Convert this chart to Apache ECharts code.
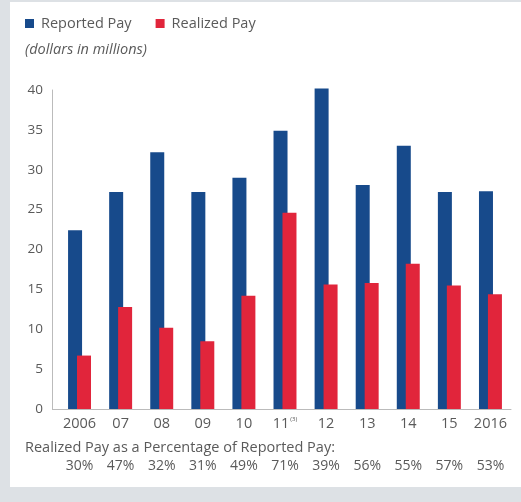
<!DOCTYPE html>
<html>
<head>
<meta charset="utf-8">
<script src="https://cdn.jsdelivr.net/npm/echarts@6/dist/echarts.min.js"></script>
<style>
  html, body { margin: 0; padding: 0; background: #dde1e5; }
  #chart { width: 521px; height: 502px; }
</style>
</head>
<body>
<div id="chart"></div>
<script>
// dollars in millions
var years = ['2006', '07', '08', '09', '10', '11', '12', '13', '14', '15', '2016'];
var reported = [22.4, 27.2, 32.2, 27.2, 29.0, 34.9, 40.2, 28.1, 33.0, 27.2, 27.3];
var realized = [6.7, 12.8, 10.2, 8.5, 14.2, 24.6, 15.6, 15.8, 18.2, 15.5, 14.4];
var pctLabels = ['30%', '47%', '32%', '31%', '49%', '71%', '39%', '56%', '55%', '57%', '53%'];
var yTicks = [0, 5, 10, 15, 20, 25, 30, 35, 40];

var txt = '#5a5a5a';
var font = 'Open Sans';
var fs = 14.5;

var chart = echarts.init(document.getElementById('chart'));
var option = {
    backgroundColor: '#dde1e5',
    animation: false,
    graphic: [
        { type: 'rect', z: -10, shape: { x: 10, y: 2, width: 511, height: 485 }, style: { fill: '#fff' } },
        // axis line continues under the offset y axis
        { type: 'line', shape: { x1: 52, y1: 409.5, x2: 60, y2: 409.5 }, style: { stroke: '#bbb', lineWidth: 1 } }
    ],
    title: [
        {
            text: '(dollars in millions)',
            left: 20, top: 37,
            textStyle: { fontFamily: font, fontSize: fs, fontStyle: 'italic', fontWeight: 'normal', color: txt }
        },
        {
            text: 'Realized Pay as a Percentage of Reported Pay:',
            left: 20, top: 435,
            textStyle: { fontFamily: font, fontSize: fs, fontWeight: 'normal', color: txt }
        }
    ],
    legend: {
        left: 20, top: 11,
        itemWidth: 9, itemHeight: 9, itemGap: 24,
        icon: 'rect',
        textStyle: { fontFamily: font, fontSize: fs, color: txt, padding: [0, 0, 0, 2] },
        data: ['Reported Pay', 'Realized Pay']
    },
    grid: { left: 59, right: 10, top: 90, bottom: 93 },
    xAxis: [
        {
            type: 'category',
            data: years,
            axisLine: { lineStyle: { color: '#bbb' } },
            axisTick: { show: false },
            axisLabel: {
                interval: 0,
                margin: 7,
                fontFamily: font, fontSize: fs, color: txt,
                formatter: function (v) { return v === '11' ? '11{s|(3)}' : v; },
                rich: { s: { fontSize: 6, verticalAlign: 'top', color: txt, padding: [0, 0, 6, 1] } }
            }
        },
        {
            type: 'category',
            position: 'bottom',
            offset: 42,
            data: pctLabels,
            axisLine: { show: false },
            axisTick: { show: false },
            axisLabel: { interval: 0, fontFamily: font, fontSize: 14, color: txt }
        }
    ],
    yAxis: {
        type: 'value',
        min: 0, max: 40, interval: 5,
        offset: 7,
        axisLine: { show: true, lineStyle: { color: '#bbb' } },
        axisTick: { show: false },
        splitLine: { show: false },
        axisLabel: {
            margin: 9,
            fontFamily: font, fontSize: 13.5, color: txt,
            customValues: yTicks
        }
    },
    series: [
        {
            name: 'Reported Pay',
            type: 'bar',
            data: reported,
            barWidth: 14,
            barGap: '-36%',
            clip: false,
            itemStyle: { color: '#174a8b' }
        },
        {
            name: 'Realized Pay',
            type: 'bar',
            data: realized,
            barWidth: 14,
            clip: false,
            itemStyle: { color: '#e1253b' }
        }
    ]
};
chart.setOption(option);
</script>
</body>
</html>
